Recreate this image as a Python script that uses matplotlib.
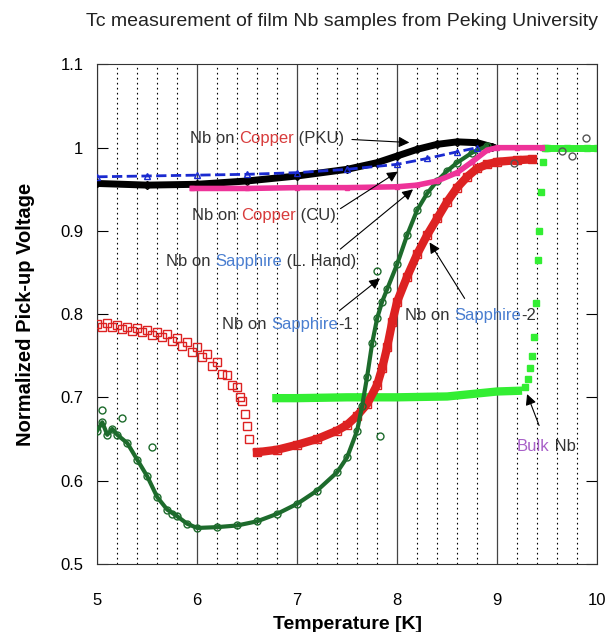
import numpy as np
import matplotlib.pyplot as plt
from matplotlib.ticker import MultipleLocator, FuncFormatter

plt.rcParams['font.family'] = ['Liberation Sans', 'DejaVu Sans']

# Nb on Copper (PKU) - black diamonds
pku_T = [5.0, 5.5, 6.0, 6.5, 7.0, 7.5, 7.8, 8.0, 8.2, 8.4, 8.6, 8.8, 8.95]
pku_V = [0.957, 0.955, 0.956, 0.960, 0.966, 0.974, 0.982, 0.990, 0.998, 1.004, 1.007, 1.006, 1.001]

# Nb on Sapphire (L. Hand) - blue triangles
lh_T = [5.0, 5.5, 6.0, 6.5, 7.0, 7.5, 8.0, 8.3, 8.6, 8.8]
lh_V = [0.965, 0.966, 0.967, 0.968, 0.970, 0.974, 0.980, 0.987, 0.995, 1.0]

# Nb on Copper (CU) - pink
cu_T = [5.95, 6.5, 7.0, 7.5, 8.0, 8.2, 8.4, 8.6, 8.75, 8.9, 9.0, 9.2, 9.45]
cu_V = [0.951, 0.951, 0.952, 0.952, 0.953, 0.955, 0.960, 0.970, 0.983, 0.997, 1.0, 1.0, 1.0]

# Nb on Sapphire-2 - red open squares (two pieces)
s2a_T = [5.0, 5.05, 5.1, 5.15, 5.2, 5.25, 5.3, 5.35, 5.4, 5.45, 5.5, 5.55, 5.6, 5.65, 5.7, 5.75, 5.8,
         5.85, 5.9, 5.95, 6.0, 6.05, 6.1, 6.15, 6.2, 6.25, 6.3, 6.35, 6.4, 6.43, 6.45, 6.48, 6.5, 6.52]
s2a_V = [0.788, 0.785, 0.789, 0.784, 0.787, 0.782, 0.785, 0.780, 0.783, 0.778, 0.781, 0.775, 0.779, 0.772,
         0.776, 0.768, 0.771, 0.762, 0.767, 0.755, 0.760, 0.748, 0.752, 0.738, 0.742, 0.728, 0.727, 0.715,
         0.712, 0.700, 0.695, 0.680, 0.665, 0.650]
s2b_T = [6.6, 6.8, 7.0, 7.2, 7.4, 7.5, 7.6, 7.7, 7.8, 7.85, 7.9, 7.95, 8.0, 8.1, 8.2, 8.3, 8.4, 8.5,
         8.6, 8.7, 8.8, 8.9, 9.0, 9.2, 9.35]
s2b_V = [0.634, 0.637, 0.643, 0.650, 0.660, 0.667, 0.678, 0.692, 0.715, 0.735, 0.760, 0.790, 0.815, 0.845,
         0.872, 0.895, 0.915, 0.935, 0.952, 0.965, 0.975, 0.980, 0.983, 0.985, 0.986]

# Nb on Sapphire-1 - dark green open circles
s1_T = [5.0, 5.05, 5.1, 5.15, 5.2, 5.3, 5.4, 5.5, 5.6, 5.7, 5.8, 5.9, 6.0, 6.2, 6.4, 6.6, 6.8, 7.0, 7.2,
        7.4, 7.5, 7.6, 7.65, 7.7, 7.75, 7.8, 7.85, 7.9, 8.0, 8.1, 8.2, 8.3, 8.4, 8.5, 8.6, 8.75, 8.9]
s1_V = [0.660, 0.670, 0.655, 0.662, 0.655, 0.645, 0.625, 0.605, 0.580, 0.565, 0.557, 0.548, 0.543, 0.544,
        0.546, 0.551, 0.560, 0.572, 0.588, 0.610, 0.628, 0.660, 0.690, 0.725, 0.765, 0.795, 0.815, 0.830,
        0.860, 0.895, 0.925, 0.945, 0.960, 0.972, 0.982, 0.994, 1.002]
# stray Sapphire-1 points
s1_out_T = [5.05, 5.25, 5.55, 5.75, 7.8, 7.83]
s1_out_V = [0.685, 0.675, 0.640, 0.560, 0.852, 0.654]

# Bulk Nb - bright green filled squares
bulk_T = [6.75, 7.0, 7.5, 8.0, 8.5, 9.0, 9.25]
bulk_V = [0.699, 0.699, 0.700, 0.700, 0.701, 0.707, 0.708]
bulk_jump_T = [9.28, 9.31, 9.33, 9.35, 9.37, 9.39, 9.41, 9.42, 9.44, 9.46, 9.48]
bulk_jump_V = [0.712, 0.722, 0.735, 0.750, 0.773, 0.813, 0.865, 0.900, 0.947, 0.983, 1.0]
bulk_top_T = [9.5, 9.7, 9.9, 10.0]
bulk_top_V = [1.0, 1.0, 1.0, 1.0]

# scattered open markers near the top right
top_out_T = [9.65, 9.75, 9.89, 9.17]
top_out_V = [0.996, 0.990, 1.012, 0.981]

fig = plt.figure(figsize=(6.08, 6.32), dpi=100)
ax = fig.add_axes([0.16, 0.108, 0.822, 0.79])

ax.plot(bulk_T, bulk_V, color='#33ee33', lw=6, solid_capstyle='butt', zorder=2)
ax.plot(bulk_jump_T, bulk_jump_V, ls='none', marker='s', ms=5, color='#33ee33', zorder=2)
ax.plot(bulk_top_T, bulk_top_V, color='#33ee33', lw=5, marker='s', ms=5, zorder=2)

ax.plot(pku_T, pku_V, color='black', lw=5, marker='D', ms=4, mfc='none', zorder=3)
ax.plot(lh_T, lh_V, color='#1a2ad0', lw=2, ls='--', marker='^', ms=4, mfc='none', zorder=4)
ax.plot(cu_T, cu_V, color='#ee3399', lw=4, marker='s', ms=3, zorder=4)
ax.plot(s2a_T, s2a_V, ls='none', marker='s', ms=6, mfc='none', mec='#dd2222', mew=1, zorder=3)
ax.plot(s2b_T, s2b_V, color='#dd2222', lw=6, marker='s', ms=6, mfc='none', mec='#dd2222', zorder=3)
ax.plot(s1_T, s1_V, color='#1d6b2c', lw=3, marker='o', ms=5, mfc='none', mec='#1d6b2c', zorder=3)
ax.plot(s1_out_T, s1_out_V, ls='none', marker='o', ms=5, mfc='none', mec='#1d6b2c', zorder=3)
ax.plot(top_out_T, top_out_V, ls='none', marker='o', ms=5, mfc='none', mec='#555555', zorder=3)

ax.set_xlim(5, 10)
ax.set_ylim(0.5, 1.1)
ax.xaxis.set_major_locator(MultipleLocator(1))
ax.xaxis.set_minor_locator(MultipleLocator(0.2))
ax.yaxis.set_major_locator(MultipleLocator(0.1))
ax.yaxis.set_major_formatter(FuncFormatter(lambda v, p: '%g' % round(v, 2)))
ax.grid(True, which='major', axis='x', color='#444444', lw=0.9, ls='-')
ax.grid(True, which='minor', axis='x', color='black', lw=0.8, ls=(0, (1.5, 3)))
ax.tick_params(axis='y', direction='in', right=True, length=8, labelsize=12, pad=10)
ax.tick_params(axis='x', which='both', length=0, labelsize=12, pad=21)
for s in ax.spines.values():
    s.set_color('#333333')

ax.set_title('Tc measurement of film Nb samples from Peking University', fontsize=14, pad=28,
             color='#222222', x=0.49)
ax.set_xlabel('Temperature [K]', fontsize=14, fontweight='bold', labelpad=6)
ax.set_ylabel('Normalized Pick-up Voltage', fontsize=14.5, fontweight='bold', labelpad=18)


def rainbow(x, y, pieces, size=12):
    t = ax.text(x, y, pieces[0][0], color=pieces[0][1], fontsize=size, va='center', ha='left', zorder=6)
    for s, c in pieces[1:]:
        t = ax.annotate(s, xy=(1, 0), xycoords=t, va='bottom', ha='left', color=c, fontsize=size, zorder=6)


def arrow(start, tip):
    ax.annotate('', xy=tip, xytext=start,
                arrowprops=dict(arrowstyle='-|>', color='black', lw=0.8, mutation_scale=16), zorder=6)


grey = '#333333'
red = '#d83c3c'
blue = '#4a7ed0'
purple = '#a860c8'

rainbow(5.93, 1.011, [('Nb on ', grey), ('Copper', red), (' (PKU)', grey)])
arrow((7.52, 1.010), (8.15, 1.006))
rainbow(5.95, 0.919, [('Nb on ', grey), ('Copper', red), (' (CU)', grey)])
arrow((7.41, 0.925), (8.03, 0.973))
rainbow(5.69, 0.863, [('Nb on ', grey), ('Sapphire', blue), (' (L. Hand)', grey)])
arrow((7.41, 0.876), (8.18, 0.952))
rainbow(6.25, 0.787, [('Nb on ', grey), ('Sapphire', blue), ('-1', grey)])
arrow((7.40, 0.802), (7.85, 0.845))
rainbow(8.08, 0.798, [('Nb on ', grey), ('Sapphire', blue), ('-2', grey)])
arrow((8.69, 0.816), (8.31, 0.889))
rainbow(9.20, 0.641, [('Bulk', purple), (' Nb', grey)])
arrow((9.43, 0.663), (9.29, 0.707))

fig.savefig('out.png', dpi=100)
